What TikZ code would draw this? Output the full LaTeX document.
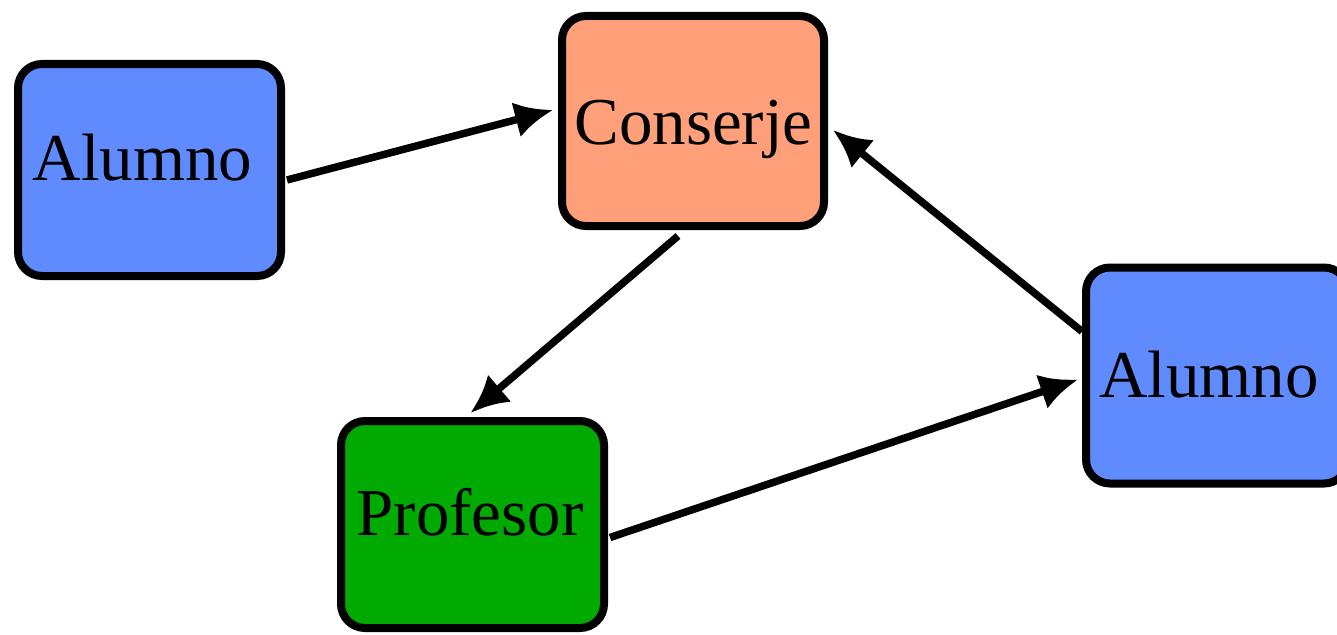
\documentclass[tikz,border=0pt]{standalone}
\usepackage{fontspec}
\setmainfont{Liberation Serif}
\usetikzlibrary{arrows.meta,calc}
\definecolor{alumnoblue}{HTML}{5F8BFF}
\definecolor{conserjeorange}{HTML}{FFA07A}
\definecolor{profgreen}{HTML}{00AA00}
\tikzset{
  box/.style={draw=black, line width=8pt, rounded corners=24pt, inner sep=0pt},
  lbl/.style={anchor=base, inner sep=0pt, font=\fontsize{67}{80}\selectfont, text=black},
  conn/.style={line width=7.5pt, -{Latex[length=38pt,width=36pt]}}
}
\begin{document}
\begin{tikzpicture}[x=1pt,y=-1pt]
\useasboundingbox (0,0) rectangle (1337,634);
\fill[white] (0,0) rectangle (1337,634);
% boxes
\node[box, fill=alumnoblue, minimum width=263pt, minimum height=212pt] (AL) at (149.5,170) {};
\node[box, fill=conserjeorange, minimum width=262pt, minimum height=210pt] (CO) at (693,121) {};
\node[box, fill=profgreen, minimum width=263pt, minimum height=207pt] (PR) at (472.5,524.5) {};
\node[box, fill=alumnoblue, minimum width=262pt, minimum height=216pt] (AR) at (1217,375.5) {};
% labels
\node[lbl] (tAL) at (142.5,180) {Alumno};
\node[lbl] (tCO) at (693.5,144) {Conserje};
\node[lbl] (tPR) at (470,535) {Profesor};
\node[lbl] (tAR) at (1209,397) {Alumno};
% connectors
\draw[conn] ($(AL.east)+(2,10)$) -- ($(CO.west)+(-5,-11)$);
\draw[conn] ($(CO.south)+(-15,6)$) -- ($(PR.north)+(-2,-4)$);
\draw[conn] ($(PR.east)+(2,13)$) -- ($(AR.west)+(-4,4)$);
\draw[conn] ($(AR.west)+(0,-44)$) -- ($(CO.east)+(5,9)$);
\end{tikzpicture}
\end{document}
